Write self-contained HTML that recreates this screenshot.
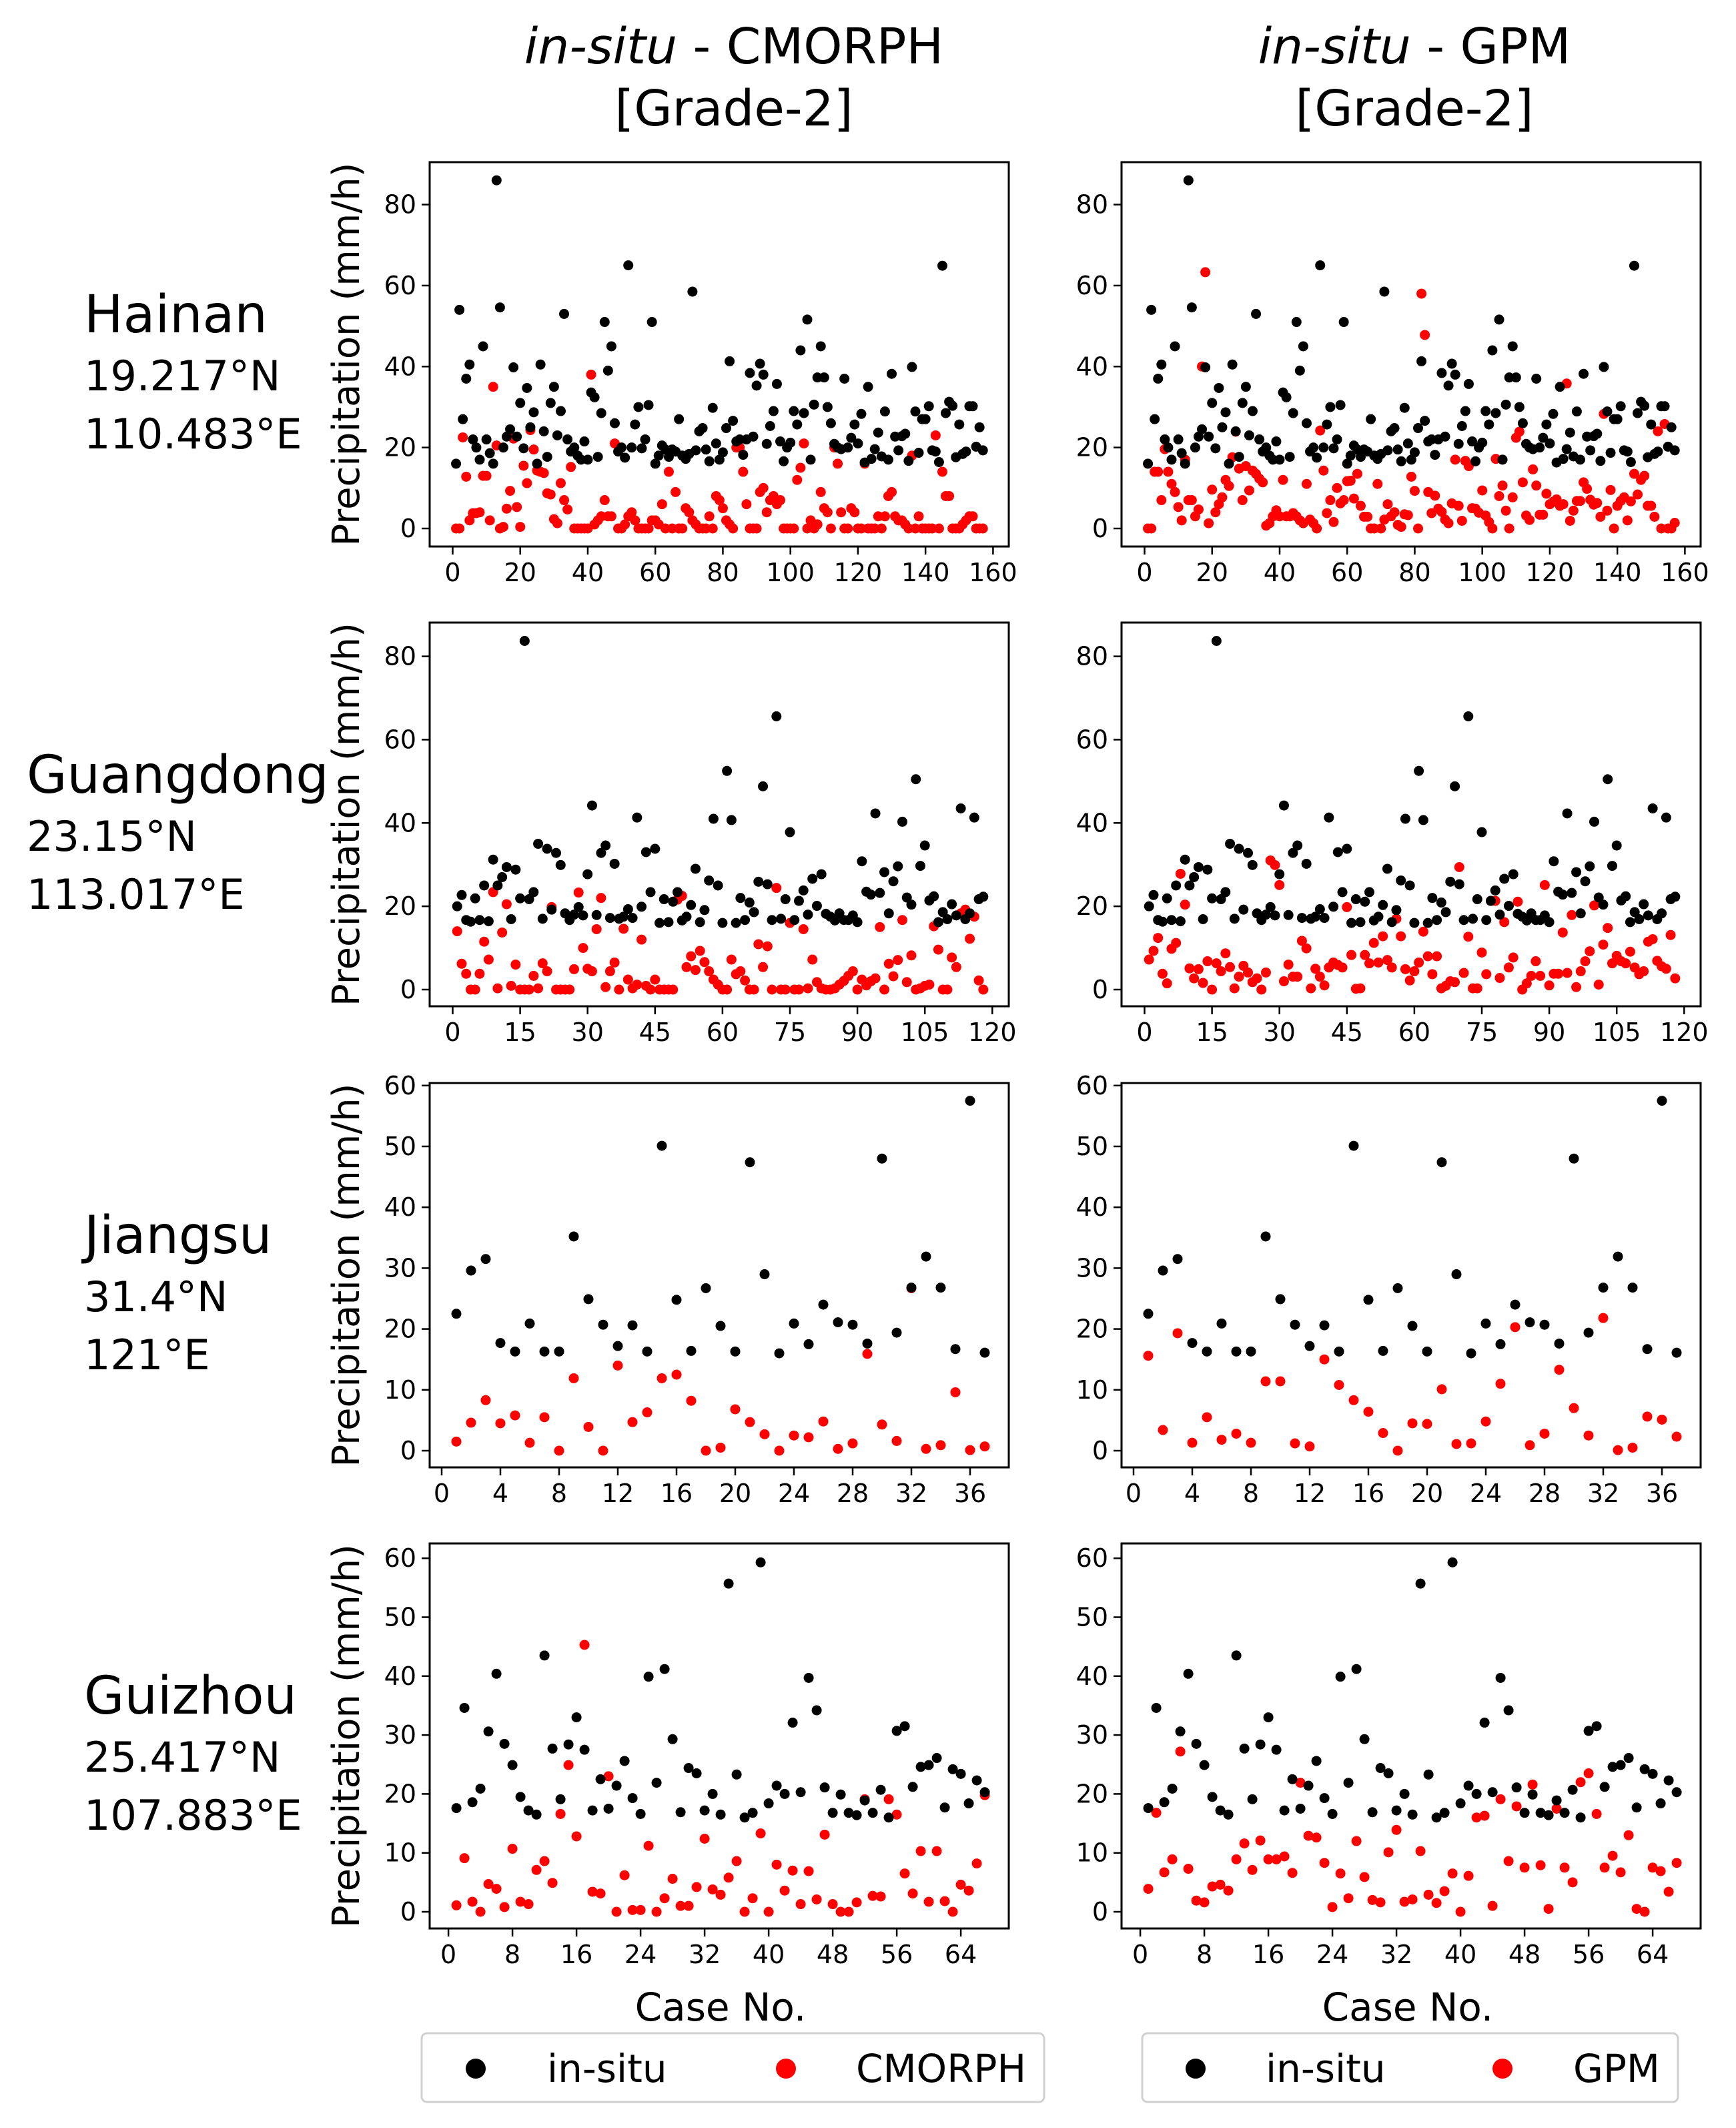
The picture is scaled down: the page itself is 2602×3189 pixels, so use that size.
<!DOCTYPE html>
<html><head><meta charset="utf-8"><style>
html,body{margin:0;padding:0;background:#fff;}
svg{display:block;font-family:"DejaVu Sans","Liberation Sans",sans-serif;}
</style></head><body>
<svg id="fig" width="2602" height="3189" viewBox="0 0 2602 3189" xmlns="http://www.w3.org/2000/svg">
<rect width="2602" height="3189" fill="#fff"/>
<text x="1100" y="95" font-size="74" text-anchor="middle"><tspan font-style="italic">in-situ</tspan> - CMORPH</text>
<text x="1100" y="188" font-size="74" text-anchor="middle">[Grade-2]</text>
<text x="2120" y="95" font-size="74" text-anchor="middle"><tspan font-style="italic">in-situ</tspan> - GPM</text>
<text x="2120" y="188" font-size="74" text-anchor="middle">[Grade-2]</text>

<g font-size="62">
<text x="126" y="498" font-size="78">Hainan</text><text x="126" y="585">19.217°N</text><text x="126" y="672">110.483°E</text></g>
<g font-size="62">
<text x="40" y="1188" font-size="78">Guangdong</text><text x="40" y="1275">23.15°N</text><text x="40" y="1362">113.017°E</text></g>
<g font-size="62">
<text x="126" y="1878" font-size="78">Jiangsu</text><text x="126" y="1965">31.4°N</text><text x="126" y="2052">121°E</text></g>
<g font-size="62">
<text x="126" y="2568" font-size="78">Guizhou</text><text x="126" y="2655">25.417°N</text><text x="126" y="2742">107.883°E</text></g>

<text x="1080" y="3028" font-size="58" text-anchor="middle">Case No.</text>
<text x="2110" y="3028" font-size="58" text-anchor="middle">Case No.</text>

<g>
<rect x="632" y="3047" width="933" height="103" rx="8" fill="#fff" stroke="#d0d0d0" stroke-width="3"/>
<circle cx="713" cy="3100" r="15" fill="#000"/>
<text x="820" y="3120" font-size="58">in-situ</text>
<circle cx="1178" cy="3100" r="15" fill="#f00"/>
<text x="1283" y="3120" font-size="58">CMORPH</text>
</g>
<g>
<rect x="1712" y="3047" width="803" height="103" rx="8" fill="#fff" stroke="#d0d0d0" stroke-width="3"/>
<circle cx="1792" cy="3100" r="15" fill="#000"/>
<text x="1897" y="3120" font-size="58">in-situ</text>
<circle cx="2252" cy="3100" r="15" fill="#f00"/>
<text x="2358" y="3120" font-size="58">GPM</text>
</g>
</svg>
<script>
const hainanInsitu=[16,54,27,37,40.5,22,20,17,45,22,18.6,16,86,54.6,20,22.7,24.5,39.8,22.7,31,19.8,34.7,25,28.7,16,40.5,24,17.7,31,35,23,29,53,22,19,20,18,17,21.5,17,33.6,32.4,17.7,28.5,51,39,45,26,19,20,17.5,65,20,25.7,30,19.8,22,30.5,51,16,18,20.5,19.5,17.7,19.5,19,27,18,17.2,18.4,58.5,19.3,24,24.8,19.5,16.6,29.8,21,17,18.8,24.8,41.3,26.6,21.5,22,18.2,22,38.4,22.7,35.3,40.7,38,20.9,25.3,29,35.7,21.5,16.6,20,21.2,29,25.7,44,28.5,51.6,17,30.6,37.3,45,37.3,30,26,20.9,20,19.6,37,20,22.4,25.7,21,28.3,16.3,35,17.2,19.6,23.7,17.8,28.9,17,38.2,22.7,19.3,22.8,23.4,16.7,39.9,28.9,18.7,27,27,30.2,19.3,19,16.4,64.9,28.5,31.3,30.3,17.6,25.7,18.4,19,30.2,30.2,20.2,25,19.3];
const hainanCmorph=[0,0,22.5,12.8,2,3.8,3.8,4,13,13,2,35,20.5,0,0.4,4.9,9.3,22.2,5.3,0.4,15.5,11.2,24.3,19.5,14.3,14,13.7,8.7,8.4,2.3,1.3,11.2,7,4.7,15.2,0,0,0,0,0,38,1,2,3,7,3,3,21,0,0,1,3,4,2,0,0,0,0,2,2,1,6,0,14,0,9,0,0,5,4,2,1,0,0,0,3,0,8,7,5,2,1,0,20,20,14,6,0,0,0,9,10,4,7,8,6,7,0,0,0,0,12,15,21,0,2,0,1,9,5,4,0,20,16,4,0,0,5,4,0,0,16,0,0,0,3,0,3,8,9,3,2,2,1,0,18,0,3,0,0,0,0,23,0,14,8,8,0,0,0,1,2,3,3,0,0,0];
const hainanGpm=[0,0,14,14,7,19.6,14,11,9,5.3,2,17,7,7,3,4.7,40,63.3,1.3,9.6,4,6,7.7,12,10.5,17.6,23.9,14.8,7,15.4,9.4,14.3,13.5,12.3,11.4,0.7,1.3,3,4.5,3,12,3,3,3.8,3,2,1.3,11,2.2,1.3,0,24.2,14.3,3.8,7,1.6,10,6.2,7,11.7,11.8,7.4,13.5,5.6,2.9,2.9,0,0,11,0,2.2,6,3,4,0.9,0.4,3.5,3.3,12.8,9.3,0,58,47.8,9,3.8,8.1,4.9,4.1,2.2,1.3,6.2,17,5.6,1.9,16.7,15.4,5,4.9,3.9,9.4,3.2,1.6,0,17.2,8,10.6,4.4,0,7.7,22.4,23.9,11.4,3.2,2.1,14.6,10.6,3.4,3.4,8.6,6,6.6,7.2,5.6,6,35.8,1.9,4.4,6.8,6.8,11.4,9.8,7.1,5.9,6.3,2.9,28.3,4.4,9.5,0,5.6,6.8,7.7,2,6.7,13.5,8.4,12,13,5.6,5.6,2.9,24,0,25.8,0,0,1.4];

const guangdongInsitu=[20,22.7,16.7,16.3,21.9,16.7,25,16.4,31.2,25,27,29.4,16.9,28.8,21.9,83.7,21.7,23.4,35,17,33.8,19.2,32.8,29.9,18.3,16.7,18,19.8,17.8,27.7,44.2,17.9,32.8,34.6,17.2,30.2,17,17.5,19.3,17.2,41.3,19.9,33,23.4,33.8,16,21.7,16.2,21.1,23.4,16.6,17.5,20.3,29,16.2,19.1,26.2,41,25,16,52.5,40.7,16,22,16.7,20.9,18.6,25.9,48.8,25.3,16.7,65.6,17,21.7,37.8,16.7,21.3,23.8,18,26.6,20.1,27.7,18.2,17.5,16.6,18.3,16.7,16.7,17.8,16.2,30.8,23.5,22.8,42.3,23.2,28.2,18.3,26,29.6,40.3,22.1,20.4,50.5,29.7,34.6,21.4,22.4,16.2,18.6,16.9,20.5,17.8,43.5,16.9,18.3,41.3,21.7,22.3];
const guangdongCmorph=[14,6.2,3.8,0,0,3.8,11.5,7.2,23.4,0.3,13.7,20.5,0.9,6,0,0,0,3.3,0.3,6.3,4.4,19.8,0,0,0,0,4.9,23.3,10,5,4.4,14.5,22,0.6,4.4,6.5,0,14.6,2.4,0.3,1.2,12,0.9,0,2.4,0,0,0,0,21.6,22.5,5.4,8,4.7,9.3,6.6,4.4,2.4,1.2,0,0,7.2,3.7,4.4,2.2,0,0,10.9,5.4,10.4,0,24.4,0,0,16,0,0,14.5,0.3,7.2,1.8,0.3,0,0,0.3,1.2,2.1,3.3,4.4,0,2.4,1,2,2.7,15,0,6.2,3.2,7.1,16.7,1.8,8.2,0,0.3,0.9,1.2,15.2,9.6,0,0,7.7,5.4,18.3,19.2,12.2,17.5,2.2,0];
const guangdongGpm=[7.2,9.3,12.4,3.8,1.5,9.8,11.2,27.8,20.4,5.1,2.7,4.9,1.6,6.8,0,6.3,4.4,8.7,5.4,0.3,3.1,5.7,4.1,1.8,2.7,0,4.1,31,29.9,25.1,2,6,3.1,3.1,11.7,9.9,0.3,5,3.1,1,5.3,6.5,5.9,5.3,19.8,8.3,0.2,0.3,8.3,6.3,11.2,6.5,12.8,7.1,5.3,17,12.8,4.9,2.2,4.4,6.5,13.9,8,3.7,8,0.3,0.9,2,1.8,29.4,4,12.7,0.3,0.3,8.9,3.7,21.3,21.3,2.8,16.2,5.3,7.7,21.1,0,1.5,3.3,6.8,3.3,25.1,1,3.8,3.8,13.7,4,17.9,0.6,4.4,6.8,9.2,20.2,1.2,10.8,14.8,6.3,8.1,6.8,6.3,9.1,5.3,3.7,4.4,11.5,12.1,6.9,5.6,5,13.1,2.7];

const jiangsuInsitu=[22.5,29.6,31.5,17.7,16.3,20.9,16.3,16.3,35.2,24.9,20.7,17.2,20.6,16.3,50.1,24.8,16.4,26.7,20.5,16.3,47.4,29,16,20.9,17.5,24,21.1,20.7,17.6,48,19.4,26.8,31.9,26.8,16.7,57.5,16.1];
const jiangsuCmorph=[1.5,4.6,8.3,4.5,5.8,1.3,5.5,0,11.9,3.9,0,14,4.7,6.3,11.9,12.5,8.2,0,0.5,6.8,4.7,2.7,0,2.5,2.2,4.8,0.3,1.2,15.9,4.3,1.6,26.7,0.3,0.9,9.6,0.1,0.7];
const jiangsuGpm=[15.6,3.4,19.3,1.3,5.5,1.8,2.8,1.3,11.4,11.4,1.2,0.7,15,10.8,8.3,6.4,2.9,0,4.5,4.4,10.1,1.1,1.2,4.8,11,20.3,0.9,2.8,13.3,7,2.5,21.8,0.1,0.5,5.6,5.1,2.3];

const guizhouInsitu=[17.6,34.6,18.6,20.9,30.6,40.4,28.5,24.9,19.5,17.2,16.5,43.5,27.7,19.1,28.4,33,27.5,17.2,22.5,17.5,21.4,25.6,19.3,16.6,39.9,21.9,41.2,29.3,16.9,24.4,23.5,17.2,20,16.5,55.7,23.3,16,16.8,59.3,18.4,21.4,20,32.1,20.3,39.7,34.2,21.1,16.8,19.9,16.8,16.4,18.9,16.8,20.7,16,30.7,31.5,21.2,24.6,24.9,26.1,17.7,24.2,23.4,18.4,22.3,20.3];
const guizhouCmorph=[1.1,9.1,1.7,0,4.7,3.9,0.8,10.7,1.7,1.3,7.1,8.6,4.9,16.6,24.9,12.8,45.3,3.4,3.1,23,0,6.2,0.3,0.3,11.2,0,2.3,5.6,1,1,4.2,12.4,3.8,2.9,5.8,8.6,0,2.3,13.3,0,8,3.6,7,1.3,6.9,2.1,13.1,1.3,0,0,1.6,19.1,2.7,2.6,19.1,16.5,6.5,3.1,10.3,1.7,10.3,1.8,0,4.6,3.6,8.2,19.8];
const guizhouGpm=[3.9,16.8,6.7,8.9,27.2,7.3,1.9,1.6,4.3,4.6,3.6,8.9,11.6,7.1,12.1,8.9,8.9,9.4,6.6,21.9,12.9,12.6,8.3,0.8,6.5,2.3,12,5.9,2,1.6,10.1,13.9,1.7,2.1,10.3,2.9,1.5,3.5,6.5,0,6.1,16,16.3,1,19.1,8.6,17.9,7.5,21.6,7.9,0.5,17.5,7.5,5,22,23.5,16.6,7.5,9.5,6.7,13,0.5,0,7.5,6.9,3.4,8.3];

const hainanXTicks=[0,20,40,60,80,100,120,140,160];
const hainanYTicks=[0,20,40,60,80];
const guangdongXTicks=[0,15,30,45,60,75,90,105,120];
const guangdongYTicks=[0,20,40,60,80];
const jiangsuXTicks=[0,4,8,12,16,20,24,28,32,36];
const jiangsuYTicks=[0,10,20,30,40,50,60];
const guizhouXTicks=[0,8,16,24,32,40,48,56,64];
const guizhouYTicks=[0,10,20,30,40,50,60];

const NS="http://www.w3.org/2000/svg";
const svg=document.getElementById('fig');
function mk(tag,attrs,parent){const e=document.createElementNS(NS,tag);for(const k in attrs)e.setAttribute(k,attrs[k]);(parent||svg).appendChild(e);return e;}

const rows=[
 {key:'hainan',top:243,bottom:819,x0:678.5,x1:1488.4,xmax:160,y0:792,ymax:80,ymaxPx:306.6,insitu:hainanInsitu,sat:[hainanCmorph,hainanGpm],xt:hainanXTicks,yt:hainanYTicks},
 {key:'guangdong',top:933,bottom:1508,x0:678.5,x1:1487.3,xmax:120,y0:1483,ymax:80,ymaxPx:983.6,insitu:guangdongInsitu,sat:[guangdongCmorph,guangdongGpm],xt:guangdongXTicks,yt:guangdongYTicks},
 {key:'jiangsu',top:1623,bottom:2199,x0:662,x1:1454,xmax:36,y0:2174,ymax:50,ymaxPx:1718,insitu:jiangsuInsitu,sat:[jiangsuCmorph,jiangsuGpm],xt:jiangsuXTicks,yt:jiangsuYTicks},
 {key:'guizhou',top:2313,bottom:2890,x0:672.1,x1:1440.1,xmax:64,y0:2865,ymax:60,ymaxPx:2335.2,insitu:guizhouInsitu,sat:[guizhouCmorph,guizhouGpm],xt:guizhouXTicks,yt:guizhouYTicks}
];
const cols=[{off:0,name:'cmorph',left:644},{off:1037,name:'gpm',left:1681}];

rows.forEach(r=>{
 cols.forEach((c,ci)=>{
  const g=mk('g',{});
  
  
  const left=c.left,right=c.left+868;
  const xs=v=>r.x0+c.off+(v/r.xmax)*(r.x1-r.x0);
  const ys=v=>r.y0-(v/r.ymax)*(r.y0-r.ymaxPx);
  r.xt.forEach(t=>{
   const tl=mk('line',{x1:xs(t),x2:xs(t),y1:r.bottom,y2:r.bottom+12,stroke:'#000','stroke-width':2.5},g);
   
   
   const tx=mk('text',{x:xs(t),y:r.bottom+52,'font-size':38,'text-anchor':'middle'},g);
   
   
   tx.textContent=t;
  });
  r.yt.forEach(t=>{
   const tl=mk('line',{x1:left-12,x2:left,y1:ys(t),y2:ys(t),stroke:'#000','stroke-width':2.5},g);
   
   
   const tx=mk('text',{x:left-20,y:ys(t)+13,'font-size':38,'text-anchor':'end'},g);
   
   
   tx.textContent=t;
  });
  if(ci===0){
   const cy=(r.top+r.bottom)/2;
   const yl=mk('text',{x:0,y:0,'font-size':56,'text-anchor':'middle',transform:'translate('+(left-106)+','+cy+') rotate(-90)'},g);
   
   
   yl.textContent='Precipitation (mm/h)';
  }
  r.sat[ci].forEach((v,i)=>{
   const p=mk('circle',{cx:xs(i+1),cy:ys(v),r:7.5,fill:'#f00'},g);
   
   
  });
  r.insitu.forEach((v,i)=>{
   const p=mk('circle',{cx:xs(i+1),cy:ys(v),r:7.5,fill:'#000'},g);
   
   
  });
  const fr=mk('rect',{x:left,y:r.top,width:right-left,height:r.bottom-r.top,fill:'none',stroke:'#000','stroke-width':3},g);
  
  
 });
});
</script>
</body></html>
